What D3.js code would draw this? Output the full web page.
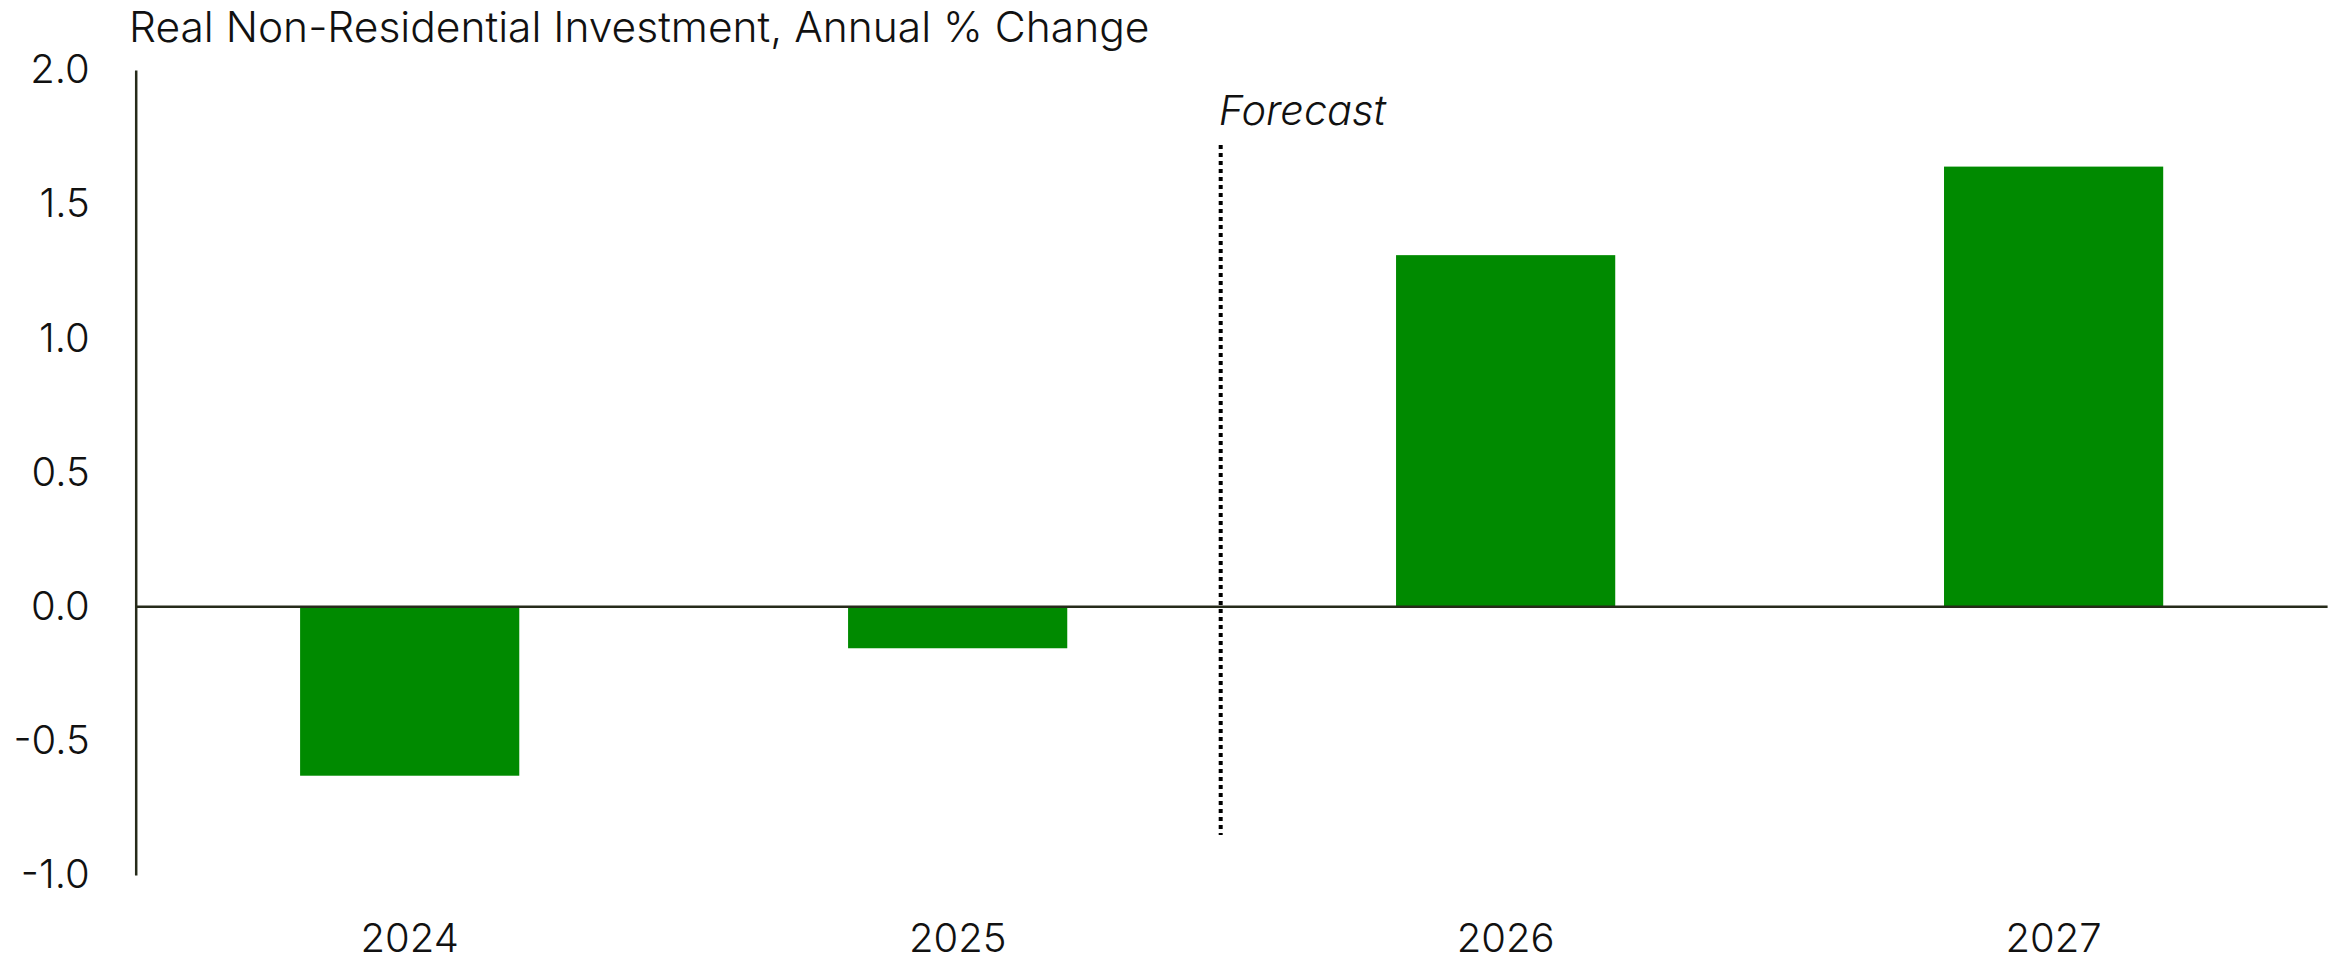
<!DOCTYPE html>
<html>
<head>
<meta charset="utf-8">
<script src="https://cdn.jsdelivr.net/npm/d3@7"></script>
<style>
  html, body { margin: 0; padding: 0; background: #ffffff; }
  svg { display: block; }
  text { font-family: Inter, "Noto Sans", sans-serif; fill: #111111; font-weight: 300; }
</style>
</head>
<body>
<script>
// Chart data
const years = ["2024", "2025", "2026", "2027"];
const changes = [-0.63, -0.155, 1.31, 1.64];
const yTicks = [-1.0, -0.5, 0.0, 0.5, 1.0, 1.5, 2.0];
const titleText = "Real Non-Residential Investment, Annual % Change";
const forecastLabel = "Forecast";
const firstForecastYear = "2026";

const width = 2338, height = 962;
const margin = { left: 135.7, right: 10.4, top: 70, bottom: 87 };

const svg = d3.select("body").append("svg")
  .attr("width", width)
  .attr("height", height);

const x = d3.scaleBand()
  .domain(years)
  .range([margin.left, width - margin.right])
  .paddingInner(0.6)
  .paddingOuter(0.3);

const y = d3.scaleLinear()
  .domain([-1, 2])
  .range([height - margin.bottom, margin.top]);

const axisColor = "#262b1a";
// one decimal, plain hyphen for negatives
const fmt = d => d.toFixed(1);

// Bars
svg.append("g")
  .selectAll("rect")
  .data(years.map((yr, i) => ({ yr, v: changes[i] })))
  .join("rect")
  .attr("x", d => x(d.yr))
  .attr("width", x.bandwidth())
  .attr("y", d => y(Math.max(0, d.v)))
  .attr("height", d => Math.abs(y(d.v) - y(0)))
  .attr("fill", "#008a00");

// Zero line
svg.append("line")
  .attr("x1", x.range()[0])
  .attr("x2", x.range()[1])
  .attr("y1", y(0))
  .attr("y2", y(0))
  .attr("stroke", axisColor)
  .attr("stroke-width", 2.5);

// Y axis
const yAxis = svg.append("g")
  .attr("transform", `translate(${margin.left},0)`)
  .call(d3.axisLeft(y)
    .tickValues(yTicks)
    .tickFormat(fmt)
    .tickSize(0)
    .tickPadding(46));
yAxis.select(".domain").attr("stroke", axisColor).attr("stroke-width", 2.5);
yAxis.selectAll("text")
  .attr("font-family", "Inter, 'Noto Sans', sans-serif")
  .attr("font-size", 40)
  .attr("font-weight", 300)
  .attr("fill", "#111111");

// X axis labels
const xAxis = svg.append("g")
  .attr("transform", `translate(0,${y(-1)})`)
  .call(d3.axisBottom(x).tickSize(0).tickPadding(49));
xAxis.select(".domain").remove();
xAxis.selectAll("text")
  .attr("font-family", "Inter, 'Noto Sans', sans-serif")
  .attr("font-size", 40)
  .attr("font-weight", 300)
  .attr("fill", "#111111");

// Forecast divider, placed in the gap before the first forecast year
const idx = years.indexOf(firstForecastYear);
const fx = x(years[idx - 1]) + x.bandwidth() / 2 + x.step() * 0.48;
svg.append("line")
  .attr("x1", fx).attr("x2", fx)
  .attr("y1", 145).attr("y2", 835)
  .attr("stroke", "#000000")
  .attr("stroke-width", 4)
  .attr("stroke-dasharray", "4 4");

svg.append("text")
  .attr("x", fx - 2)
  .attr("y", 125)
  .attr("font-size", 41.5)
  .attr("font-style", "italic")
  .text(forecastLabel);

// Title
svg.append("text")
  .attr("x", 129)
  .attr("y", 42)
  .attr("font-size", 42.5)
  .text(titleText);
</script>
</body>
</html>
